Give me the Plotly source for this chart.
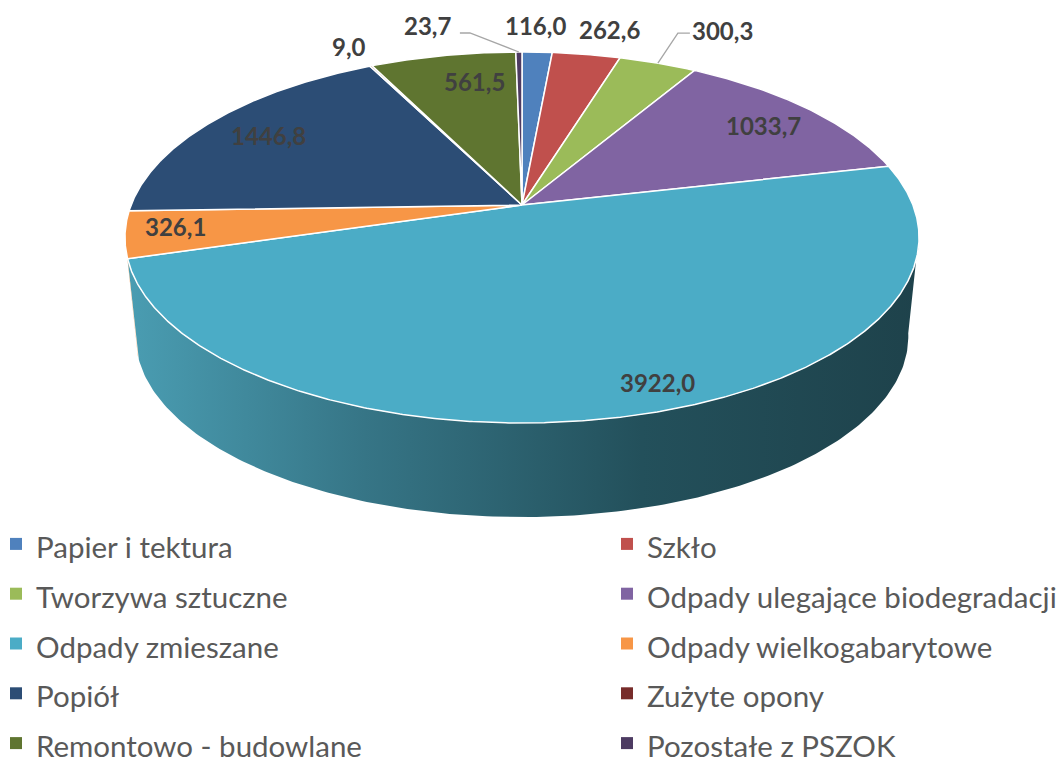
import numpy as np
import plotly.graph_objects as go

# ---- data ----
categories = ["Papier i tektura", "Szkło", "Tworzywa sztuczne",
              "Odpady ulegające biodegradacji", "Odpady zmieszane",
              "Odpady wielkogabarytowe", "Popiół", "Zużyte opony",
              "Remontowo - budowlane", "Pozostałe z PSZOK"]
values = [116.0, 262.6, 300.3, 1033.7, 3922.0, 326.1, 1446.8, 9.0, 561.5, 23.7]
colors = ["#4F81BD", "#C0504D", "#9BBB59", "#8064A2", "#4BACC6",
          "#F79646", "#2C4D75", "#772C2A", "#5F7530", "#4D3B62"]

# ---- 3D projection style (pixels) ----
X0, Y0 = 522.0, 205.0      # projected pie centre
A, B = 390.9, 179.8        # projected radii
K = 0.1752                 # perspective factor
DEPTH, SHRINK = 100.0, 0.973

def proj(theta_deg, r=1.0, bottom=False):
    t = np.radians(theta_deg)
    u = r * np.sin(t)
    v = -r * np.cos(t)
    w = 1 - K * v
    s = SHRINK if bottom else 1.0
    return X0 + s * A * u / w, Y0 + (DEPTH if bottom else 0) + s * B * v / w

total = sum(values)
angles = np.cumsum([0] + [v / total * 360 for v in values])

fig = go.Figure()

# side walls (visible front part only)
FRONT = (99.0, 254.0)
side_grad = [[0, "#4A9DB2"], [0.3, "#367586"], [0.65, "#23505B"], [1, "#1E424B"]]
for i, (a0, a1) in enumerate(zip(angles[:-1], angles[1:])):
    lo, hi = max(a0, FRONT[0]), min(a1, FRONT[1])
    if hi <= lo:
        continue
    th = np.linspace(lo, hi, 200)
    xt, yt = proj(th)
    xb, yb = proj(th[::-1], bottom=True)
    xs = np.concatenate([xt, xb, xt[:1]])
    ys = np.concatenate([yt, yb, yt[:1]])
    kw = {}
    if categories[i] == "Odpady zmieszane":
        kw["fillgradient"] = dict(type="horizontal", colorscale=side_grad)
    else:
        kw["fillcolor"] = colors[i]
    fig.add_trace(go.Scatter(x=xs, y=ys, mode="lines", fill="toself",
                             line=dict(color="rgba(0,0,0,0)", width=0),
                             hoverinfo="skip", showlegend=False, **kw))

# top faces
for i, (a0, a1) in enumerate(zip(angles[:-1], angles[1:])):
    n = max(int((a1 - a0) * 3), 4)
    th = np.linspace(a0, a1, n)
    xa, ya = proj(th)
    xs = np.concatenate([[X0], xa, [X0]])
    ys = np.concatenate([[Y0], ya, [Y0]])
    fig.add_trace(go.Scatter(x=xs, y=ys, mode="lines", fill="toself",
                             fillcolor=colors[i],
                             line=dict(color="white", width=1.5),
                             name=categories[i], hoverinfo="name+text",
                             text=f"{values[i]:.1f}".replace(".", ","),
                             showlegend=False))

# legend entries: two columns, filled row by row
for i, c in enumerate(categories):
    fig.add_trace(go.Scatter(x=[None], y=[None], mode="markers",
                             marker=dict(symbol="square", size=12, color=colors[i]),
                             name=f'<span style="font-size:29.5px">{c}</span>',
                             legend="legend" if i % 2 == 0 else "legend2",
                             showlegend=True))

# data labels: (radius factor, dx, dy, leader)
label_style = {
    "Papier i tektura": (1.0, -2, -27, None),
    "Szkło": (1.0, 23, -25, None),
    "Tworzywa sztuczne": (1.0, 65, -33, (20, -30, 32)),
    "Odpady ulegające biodegradacji": (0.83, 0, 2, None),
    "Odpady zmieszane": (0.87, 34, 0, None),
    "Odpady wielkogabarytowe": (0.88, 2, -4, None),
    "Popiół": (0.81, 0, 0, None),
    "Zużyte opony": (1.0, -22, -19, None),
    "Remontowo - budowlane": (0.78, 16, -3, None),
    "Pozostałe z PSZOK": (1.0, -91, -27, (-49, -19, -59)),
}
for i, c in enumerate(categories):
    r, dx, dy, leader = label_style[c]
    mid = (angles[i] + angles[i + 1]) / 2
    ex, ey = proj(mid, r)
    tx, ty = ex + dx, ey + dy
    if leader is not None:
        ox, oy, hx = leader
        fig.add_trace(go.Scatter(x=[ex, ex + ox, ex + hx], y=[ey, ey + oy, ey + oy],
                                 mode="lines", line=dict(color="#A6A6A6", width=1.3),
                                 hoverinfo="skip", showlegend=False))
    fig.add_annotation(x=tx, y=ty, text=f"<b>{values[i]:.1f}</b>".replace(".", ","),
                       showarrow=False, font=dict(family="Lato", size=24, color="#404040"))

legend_common = dict(orientation="v", yanchor="top", y=1 - 514 / 758, xanchor="left",
                     font=dict(family="Lato", size=36, color="#595959"),
                     itemsizing="trace", bgcolor="rgba(0,0,0,0)", tracegroupgap=0)
fig.update_layout(
    width=1064, height=758,
    margin=dict(l=0, r=0, t=0, b=0, autoexpand=False),
    paper_bgcolor="white", plot_bgcolor="white",
    xaxis=dict(range=[0, 1064], visible=False, fixedrange=True),
    yaxis=dict(range=[758, 0], visible=False, fixedrange=True),
    legend=dict(x=-4 / 1064, **legend_common),
    legend2=dict(x=607 / 1064, **legend_common),
    font=dict(family="Lato"),
)

fig.write_html("out.html", config={"displayModeBar": False},
               post_script="document.body.style.margin='0';")
